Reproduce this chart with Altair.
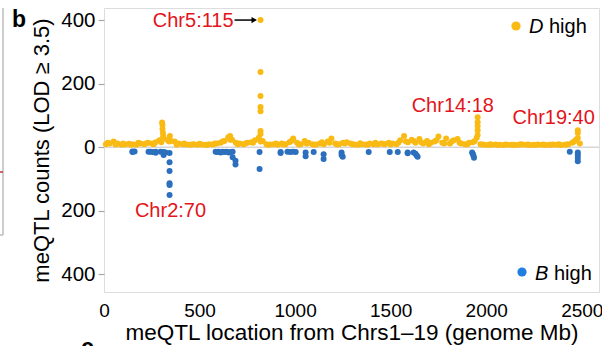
import altair as alt
import pandas as pd

# ---------------- data ----------------
# D high (yellow) baseline counts, one value per ~20 Mb bin
d_base_x = [10, 30, 50, 70, 90, 110, 130, 150, 170, 190, 210, 230, 250, 270, 290, 310, 330, 350, 370, 390,
            410, 430, 450, 470, 490, 510, 530, 550, 570, 590, 610, 630, 650, 670, 690, 710, 730, 750, 770, 790,
            810, 830, 850, 870, 890, 910, 930, 950, 970, 990, 1010, 1030, 1050, 1070, 1090, 1110, 1130, 1150,
            1170, 1190, 1210, 1230, 1250, 1270, 1290, 1310, 1330, 1350, 1370, 1390, 1410, 1430, 1450, 1470,
            1490, 1510, 1530, 1550, 1570, 1590, 1610, 1630, 1650, 1670, 1690, 1710, 1730, 1750, 1770, 1790,
            1810, 1830, 1850, 1870, 1890, 1910, 1930, 1950, 1970, 1990, 2010, 2030, 2050, 2070, 2090, 2110,
            2130, 2150, 2170, 2190, 2210, 2230, 2250, 2270, 2290, 2310, 2330, 2350, 2370, 2390, 2410, 2430,
            2450, 2470, 2490]
d_base_y = [10, 12, 18, 12, 8, 9, 11, 10, 8, 12, 10, 14, 12, 16, 22, 30, 24, 20, 18, 12,
            10, 9, 8, 10, 8, 9, 8, 10, 9, 12, 14, 20, 32, 24, 14, 12, 10, 14, 16, 22,
            30, 20, 10, 9, 10, 8, 12, 10, 16, 28, 14, 10, 20, 14, 10, 9, 12, 10,
            18, 28, 12, 10, 14, 16, 12, 9, 8, 10, 9, 12, 10, 9, 12, 10,
            14, 12, 10, 22, 36, 16, 24, 14, 26, 12, 20, 14, 18, 34, 14, 28,
            12, 22, 26, 12, 10, 14, 16, 30, 10, 8, 7, 8, 9, 8, 7, 8,
            8, 7, 8, 9, 8, 7, 8, 9, 8, 7, 8, 9, 8, 7, 8, 10,
            14, 24, 12]
# second set of D high bins (in between), lower counts
d_mid_x = [20, 60, 100, 140, 180, 220, 260, 300, 340, 380, 420, 460, 500, 540, 580, 620, 660, 700, 740,
           780, 820, 860, 900, 940, 980, 1020, 1060, 1100, 1140, 1180, 1220, 1260, 1300, 1340, 1380,
           1420, 1460, 1500, 1540, 1580, 1620, 1660, 1700, 1740, 1780, 1820, 1860, 1900, 1940, 1980,
           2020, 2060, 2100, 2140, 2180, 2220, 2260, 2300, 2340, 2380, 2420, 2460]
d_mid_y = [14, 9, 12, 8, 14, 12, 10, 16, 18, 8, 12, 9, 11, 7, 12, 18, 24, 10, 12,
           14, 18, 8, 12, 9, 20, 9, 12, 8, 16, 14, 9, 12, 10, 13, 8,
           14, 11, 9, 14, 18, 20, 16, 10, 22, 12, 18, 14, 9, 20, 9,
           10, 7, 9, 8, 10, 9, 7, 9, 8, 10, 9, 18]
# D high peaks (Chr2, Chr5:115, Chr14:18, Chr19:40)
d_peak_x = [304, 306, 306, 308, 310, 345, 660,
            819, 819, 819, 819, 819, 819, 819,
            1955, 1955, 1955, 1955, 1955,
            2479, 2479, 2479]
d_peak_y = [78, 70, 58, 46, 36, 36, 36,
            401, 237, 162, 127, 114, 51, 42,
            95, 79, 67, 54, 39,
            54, 45, 29]
# B high (blue) counts, plotted downward
b_x = [149, 149, 160, 233, 243, 254, 270, 270, 296, 312, 312, 322,
       343, 343, 343, 343, 343, 343,
       584, 592, 599, 610, 620, 630, 641, 652, 662, 673, 673, 688, 688,
       814, 814, 924, 924, 960, 975, 990, 1003, 1055, 1055, 1097, 1149, 1149,
       1243, 1243, 1249, 1385, 1495, 1537, 1589, 1589, 1620, 1630, 1636, 1641,
       1926, 1930, 1933, 1936, 2437, 2479, 2479, 2479, 2479]
b_y = [-13, -15, -13, -14, -14, -15, -14, -17, -14, -15, -24, -16,
       -18, -47, -75, -113, -119, -150,
       -14, -15, -14, -16, -14, -15, -14, -16, -15, -31, -14, -42, -54,
       -15, -68, -15, -18, -14, -15, -14, -15, -16, -28, -15, -22, -37,
       -16, -24, -30, -15, -15, -15, -16, -19, -16, -20, -26, -30,
       -16, -21, -27, -33, -14, -16, -24, -34, -44]

ann_text = ["Chr5:115", "Chr2:70", "Chr14:18", "Chr19:40"]
ann_x = [678, 348, 1825, 2353]
ann_y = [379, -220, 111, 73]

arrow_x = [683]
arrow_x2 = [786]
arrow_y = [401]

x_ticks = [0, 500, 1000, 1500, 2000, 2500]
y_ticks = [-400, -200, 0, 200, 400]

# ---------------- chart ----------------
FONT = "Liberation Sans"
YEL = "#F9BA14"
BLU = "#2B6FBD"
PT = 36

xs = alt.Scale(domain=[0, 2590], nice=False, zero=False)
ys = alt.Scale(domain=[-456, 439], nice=False, zero=False)

xaxis = alt.Axis(values=x_ticks, format="d", title="meQTL location from Chrs1\u201319 (genome Mb)",
                 ticks=False, domain=False, grid=False, labelFlush=False, labelOverlap=False,
                 labelFontSize=19, titleFontSize=22.5, labelPadding=9, titlePadding=1,
                 labelColor="black", titleColor="black", titleFontWeight="normal",
                 labelFont=FONT, titleFont=FONT)
yaxis = alt.Axis(values=y_ticks, title="meQTL counts (LOD \u2265 3.5)",
                 labelExpr="abs(datum.value)", ticks=True, tickSize=6, tickColor="#a8a8a8",
                 tickWidth=1.2, domain=False, grid=False, labelPadding=3,
                 labelFontSize=20.5, titleFontSize=22, titlePadding=7,
                 labelColor="black", titleColor="black", titleFontWeight="normal",
                 labelFont=FONT, titleFont=FONT)

X = alt.X("x:Q", scale=xs, axis=xaxis)
Y = alt.Y("y:Q", scale=ys, axis=yaxis)

zero_df = pd.DataFrame({"x": [0], "x2": [2590], "y": [0]})
zero = alt.Chart(zero_df).mark_rule(color="#d6d6d6", strokeWidth=1.5).encode(
    x=X, x2="x2:Q", y=Y)

dbase = pd.DataFrame({"x": d_base_x + d_mid_x + d_peak_x, "y": d_base_y + d_mid_y + d_peak_y})
bdf = pd.DataFrame({"x": b_x, "y": b_y})

blue_pts = alt.Chart(bdf).mark_circle(size=PT, color=BLU, opacity=1).encode(x=X, y=Y)
yel_pts = alt.Chart(dbase).mark_circle(size=PT, color=YEL, opacity=1).encode(x=X, y=Y)

ann_df = pd.DataFrame({"x": ann_x, "y": ann_y, "t": ann_text})
ann_right = alt.Chart(ann_df.iloc[:1]).mark_text(
    font=FONT, fontSize=20, color="#E3141B", align="right", baseline="alphabetic").encode(
    x=X, y=Y, text="t:N")
ann_center = alt.Chart(ann_df.iloc[1:]).mark_text(
    font=FONT, fontSize=20, color="#E3141B", align="center", baseline="alphabetic").encode(
    x=X, y=Y, text="t:N")

arrow_df = pd.DataFrame({"x": arrow_x, "x2": arrow_x2, "y": arrow_y})
arrow_line = alt.Chart(arrow_df).mark_rule(color="black", strokeWidth=1.5).encode(
    x=X, x2="x2:Q", y=Y)
arrow_head = alt.Chart(arrow_df).mark_point(
    shape="triangle-right", filled=True, color="black", size=40, opacity=1).encode(
    x=alt.X("x2:Q", scale=xs, axis=xaxis), y=Y)

one = pd.DataFrame({"k": [0]})
leg_d_dot = alt.Chart(one).mark_circle(size=85, color=YEL, opacity=1).encode(
    x=alt.value(412), y=alt.value(18))
leg_d_D = alt.Chart(one).mark_text(font=FONT, fontSize=20, fontStyle="italic", align="left",
                                   baseline="alphabetic", color="black", text="D").encode(
    x=alt.value(425), y=alt.value(25))
leg_d_h = alt.Chart(one).mark_text(font=FONT, fontSize=20, align="left",
                                   baseline="alphabetic", color="black", text="high").encode(
    x=alt.value(445), y=alt.value(25))
leg_b_dot = alt.Chart(one).mark_circle(size=85, color="#1F7FE0", opacity=1).encode(
    x=alt.value(418), y=alt.value(264))
leg_b_B = alt.Chart(one).mark_text(font=FONT, fontSize=20, fontStyle="italic", align="left",
                                   baseline="alphabetic", color="black", text="B").encode(
    x=alt.value(431), y=alt.value(272))
leg_b_h = alt.Chart(one).mark_text(font=FONT, fontSize=20, align="left",
                                   baseline="alphabetic", color="black", text="high").encode(
    x=alt.value(450), y=alt.value(272))

panel_b = alt.Chart(one).mark_text(font=FONT, fontSize=23, fontWeight="bold", align="left",
                                   baseline="alphabetic", color="black", text="b").encode(
    x=alt.value(-92), y=alt.value(19))
panel_c = alt.Chart(one).mark_text(font=FONT, fontSize=23, fontWeight="bold", align="left",
                                   baseline="alphabetic", color="black", text="c").encode(
    x=alt.value(-23), y=alt.value(347))
left_frame = alt.Chart(one).mark_rule(color="#bdbdbd", strokeWidth=1.5).encode(
    x=alt.value(-101), y=alt.value(0), y2=alt.value(227))
left_frame_b = alt.Chart(one).mark_rule(color="#bdbdbd", strokeWidth=1.5).encode(
    x=alt.value(-106), x2=alt.value(-101), y=alt.value(227))
left_red = alt.Chart(one).mark_rule(color="#c0303a", strokeWidth=1.5).encode(
    x=alt.value(-106), x2=alt.value(-101), y=alt.value(164))

chart = alt.layer(
    zero, blue_pts, yel_pts, ann_right, ann_center, arrow_line, arrow_head,
    leg_d_dot, leg_d_D, leg_d_h, leg_b_dot, leg_b_B, leg_b_h,
    panel_b, panel_c, left_frame, left_frame_b, left_red
).properties(
    width=495, height=284,
    padding={"left": 104, "top": 8, "right": 3, "bottom": 54},
    autosize=alt.AutoSizeParams(type="none"),
    background="white",
).configure_view(stroke="#c4c4c4", strokeWidth=2).configure(font=FONT)

chart.save("out.html", embed_options={"renderer": "svg", "actions": False})
